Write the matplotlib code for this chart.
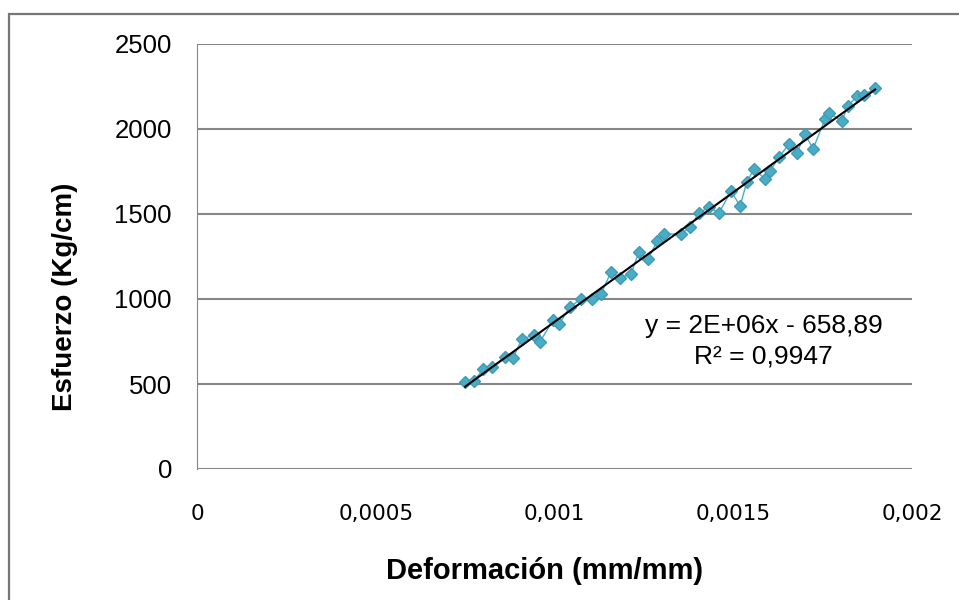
import matplotlib.pyplot as plt
import numpy as np
from matplotlib.patches import Rectangle

plt.rcParams['font.family'] = ['Liberation Sans', 'DejaVu Sans']

# strain (mm/mm) and stress (Kg/cm)
deformacion = [0.000750, 0.000775, 0.000800, 0.000825, 0.000862, 0.000884, 0.000909,
               0.000943, 0.000959, 0.000996, 0.001013, 0.001043, 0.001074, 0.001105,
               0.001130, 0.001158, 0.001183, 0.001214, 0.001236, 0.001262, 0.001287,
               0.001306, 0.001354, 0.001379, 0.001404, 0.001432, 0.001460, 0.001494,
               0.001519, 0.001538, 0.001558, 0.001589, 0.001603, 0.001628, 0.001656,
               0.001678, 0.001701, 0.001723, 0.001757, 0.001768, 0.001804, 0.001820,
               0.001846, 0.001866, 0.001897]
esfuerzo = [512, 518, 588, 600, 659, 653, 765, 788, 747, 876, 853, 953, 1000, 1000,
            1029, 1159, 1124, 1147, 1276, 1235, 1341, 1382, 1382, 1424, 1506, 1541,
            1506, 1635, 1547, 1688, 1765, 1706, 1753, 1835, 1912, 1859, 1971, 1882,
            2059, 2094, 2047, 2135, 2194, 2200, 2241]

x_ticks = [0, 0.0005, 0.001, 0.0015, 0.002]
x_tick_labels = ['0', '0,0005', '0,001', '0,0015', '0,002']
y_ticks = [0, 500, 1000, 1500, 2000, 2500]

fig = plt.figure(figsize=(9.59, 6.0), dpi=100)
# chart frame, cut off at the right and bottom edges
fig.patches.append(Rectangle((9 / 959, -0.1), 1.2, 1.1 - 14 / 600,
                             transform=fig.transFigure, fill=False,
                             edgecolor='#767676', linewidth=1.6))
ax = fig.add_axes([197 / 959, 1 - 469 / 600, 715 / 959, 425 / 600])

x = np.array(deformacion)
y = np.array(esfuerzo)
ax.plot(x, y, '-', color='#4BACC6', linewidth=1, marker='D', markersize=6,
        markerfacecolor='#4BACC6', markeredgecolor='#3D9BB5', zorder=3)

coeffs = np.polyfit(x, y, 1)
fit = np.poly1d(coeffs)
ax.plot([x.min(), x.max()], fit([x.min(), x.max()]), color='black', linewidth=1.5, zorder=4)

ax.text(0.001585, 753, 'y = 2E+06x - 658,89\nR² = 0,9947', ha='center', va='center',
        fontsize=19, linespacing=1.35)

ax.set_xlim(0, 0.002)
ax.set_ylim(0, 2500)
ax.set_xticks(x_ticks)
ax.set_xticklabels(x_tick_labels, family=['DejaVu Sans'], fontsize=15.5)
ax.set_yticks(y_ticks)
ax.tick_params(length=0)
ax.tick_params(axis='y', labelsize=18.5, pad=18)
ax.tick_params(axis='x', pad=25)
ax.grid(axis='y', color='#868686', linewidth=1.5)
ax.set_axisbelow(True)
for side in ['top', 'right', 'bottom']:
    ax.spines[side].set_visible(False)
ax.spines['left'].set_color('#868686')

ax.set_xlabel('Deformación (mm/mm)', fontsize=21, fontweight='bold')
ax.set_ylabel('Esfuerzo (Kg/cm)', fontsize=20, fontweight='bold')
ax.xaxis.set_label_coords((545 - 197) / 715, (469 - 557) / 425)
ax.yaxis.set_label_coords((78 - 197) / 715, (469 - 297) / 425)

fig.savefig('out.png', dpi=100)
